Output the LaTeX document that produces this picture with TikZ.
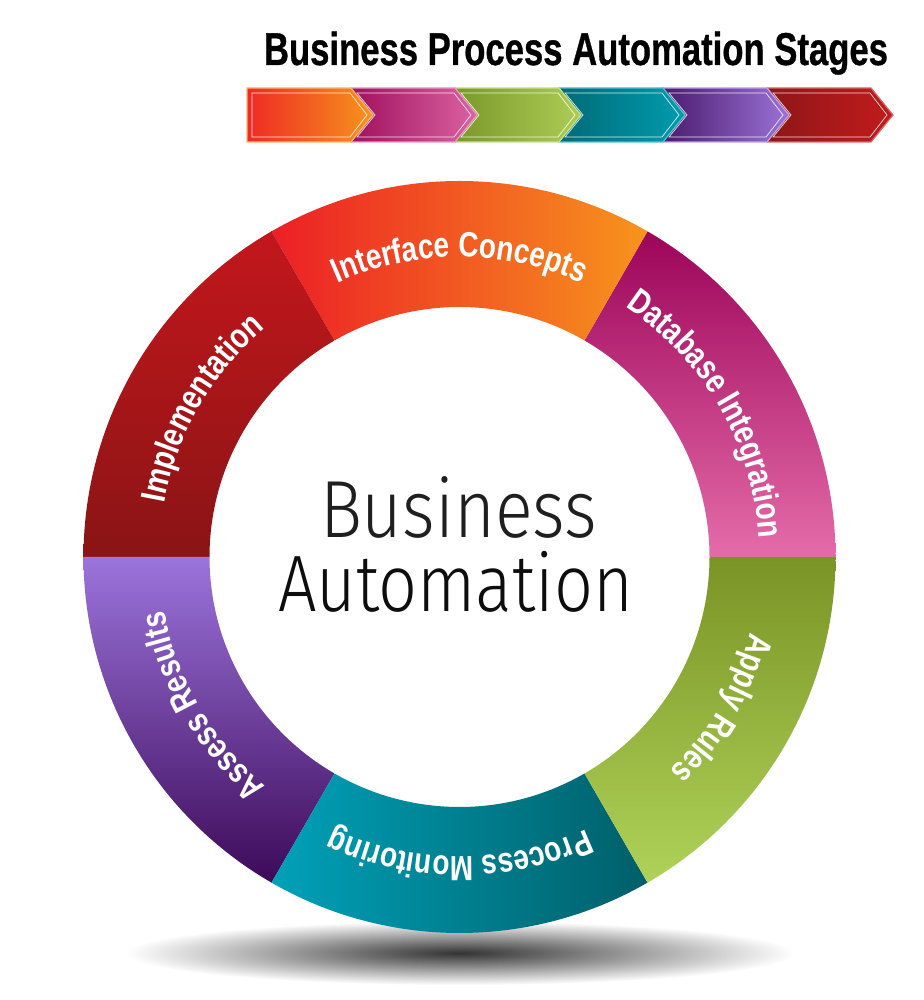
\documentclass[tikz,border=0pt]{standalone}
\usepackage{fontspec}
\setmainfont{Liberation Sans}
\newfontfamily\lblfont[FakeStretch=0.8]{Liberation Sans Bold}
\newfontfamily\titlefont[FakeBold=0.8]{Liberation Sans Bold}
\newfontfamily\centerfont{Fira Sans Light}
\usetikzlibrary{decorations.text}
\newcommand\lblstyle{\lblfont\fontsize{35}{35}\selectfont}

\definecolor{impT}{HTML}{C3171C}
\definecolor{impB}{HTML}{8A1415}
\definecolor{intL}{HTML}{EC1F26}
\definecolor{intR}{HTML}{F7941D}
\definecolor{dbT}{HTML}{9D0459}
\definecolor{dbB}{HTML}{E46CA9}
\definecolor{apT}{HTML}{7A9425}
\definecolor{apB}{HTML}{AFD259}
\definecolor{prL}{HTML}{00A1B9}
\definecolor{prR}{HTML}{005F69}
\definecolor{asT}{HTML}{9B74DC}
\definecolor{asB}{HTML}{3D0A59}

\definecolor{cvA1}{HTML}{EE2A24}\definecolor{cvB1}{HTML}{F7941D}
\definecolor{cvA2}{HTML}{A0105E}\definecolor{cvB2}{HTML}{DB63A2}
\definecolor{cvA3}{HTML}{7A982A}\definecolor{cvB3}{HTML}{ADCD55}
\definecolor{cvA4}{HTML}{006A76}\definecolor{cvB4}{HTML}{009CAF}
\definecolor{cvA5}{HTML}{4A1B6E}\definecolor{cvB5}{HTML}{9B72D8}
\definecolor{cvA6}{HTML}{8E1619}\definecolor{cvB6}{HTML}{C21B1B}

\begin{document}
\begin{tikzpicture}[x=1pt,y=1pt,
  lbl/.style={decorate, decoration={text along path, text align=center, text color=white}},
  chevin/.style={draw=white, line width=0.7pt, opacity=0.85}]
\fill[white] (0,0) rectangle (923,1000);
\useasboundingbox (0,0) rectangle (923,1000);

% title
\node[anchor=base, inner sep=0] (title) at (576,935)
  {\resizebox{624pt}{\height}{\titlefont\fontsize{46}{50}\selectfont Business Process Automation Stages}};

% chevron bar (drawn right to left so each tip overlaps the next)
\foreach \i in {5,4,3,2,1,0} {
  \pgfmathtruncatemacro\k{\i+1}
  \pgfmathsetmacro\xa{247+\i*104}
  \pgfmathsetmacro\xb{\xa+104}
  \path[left color=cvA\k, right color=cvB\k, draw=cvB\k!65!white, line width=1.2pt]
    (\xa,912) -- (\xb,912) -- (\xb+22,885) -- (\xb,858) -- (\xa,858) -- cycle;
  \ifnum\i=0
    \draw[chevin] (\xa+5,907) -- (\xb-1,907) -- (\xb+16,885) -- (\xb-1,863) -- (\xa+5,863) -- cycle;
  \else
    \draw[chevin] (\xa+6,907) -- (\xb-1,907) -- (\xb+16,885) -- (\xb-1,863) -- (\xa+6,863) -- (\xa+24,885) -- cycle;
  \fi
}

% shadow
\shade[inner color=black!80, outer color=white] (460,47) ellipse[x radius=335, y radius=32];

% ring
\begin{scope}[shift={(459.5,443)}]
  \path[top color=dbT, bottom color=dbB]
    (0:376) arc[start angle=0, end angle=60, radius=376] -- (60:250) arc[start angle=60, end angle=0, radius=250] -- cycle;
  \path[left color=intL, right color=intR]
    (60:376) arc[start angle=60, end angle=120, radius=376] -- (120:250) arc[start angle=120, end angle=60, radius=250] -- cycle;
  \path[top color=impT, bottom color=impB]
    (120:376) arc[start angle=120, end angle=180, radius=376] -- (180:250) arc[start angle=180, end angle=120, radius=250] -- cycle;
  \path[top color=asT, bottom color=asB]
    (180:376) arc[start angle=180, end angle=240, radius=376] -- (240:250) arc[start angle=240, end angle=180, radius=250] -- cycle;
  \path[left color=prL, right color=prR]
    (240:376) arc[start angle=240, end angle=300, radius=376] -- (300:250) arc[start angle=300, end angle=240, radius=250] -- cycle;
  \path[top color=apT, bottom color=apB]
    (300:376) arc[start angle=300, end angle=360, radius=376] -- (0:250) arc[start angle=360, end angle=300, radius=250] -- cycle;

  % labels along the ring, clockwise
  \path[lbl, decoration={text={|\lblstyle|Interface Concepts}}]
    (120:300) arc[start angle=120, end angle=60, radius=300];
  \path[lbl, decoration={text={|\lblstyle|Database Integration}}]
    (60:300) arc[start angle=60, end angle=0, radius=300];
  \path[lbl, decoration={text={|\lblstyle|Apply Rules}}]
    (0:300) arc[start angle=0, end angle=-60, radius=300];
  \path[lbl, decoration={text={|\lblstyle|Process Monitoring}}]
    (-60:300) arc[start angle=-60, end angle=-120, radius=300];
  \path[lbl, decoration={text={|\lblstyle|Assess Results}}]
    (-120:300) arc[start angle=-120, end angle=-180, radius=300];
  \path[lbl, decoration={text={|\lblstyle|Implementation}}]
    (180:300) arc[start angle=180, end angle=120, radius=300];
\end{scope}

% centre text
\node[anchor=base, inner sep=0, text=black!88] (business) at (458.5,462)
  {\resizebox{277pt}{\height}{\centerfont\fontsize{81}{81}\selectfont Business}};
\node[anchor=base, inner sep=0, text=black!95] (automation) at (455.5,388)
  {\resizebox{355pt}{\height}{\centerfont\fontsize{80}{80}\selectfont Automation}};
\end{tikzpicture}
\end{document}
